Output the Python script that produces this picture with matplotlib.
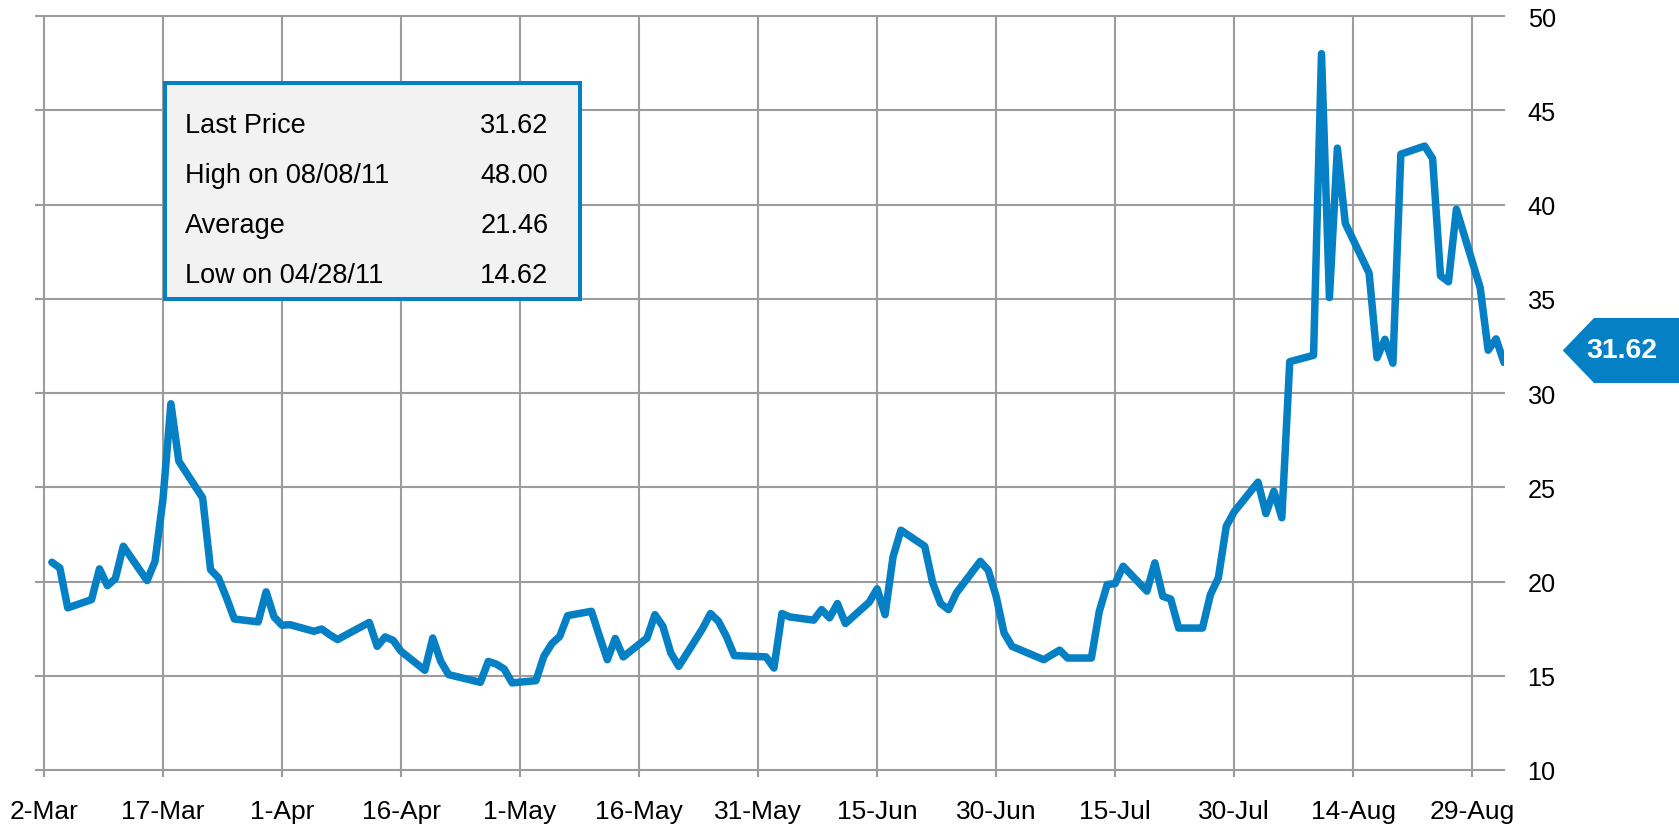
import matplotlib
matplotlib.use("Agg")
import matplotlib.pyplot as plt
import numpy as np
from matplotlib.patches import Polygon, Rectangle
from matplotlib.transforms import IdentityTransform

plt.rcParams['font.family'] = ['Liberation Sans', 'DejaVu Sans']

# Daily closing levels (2011)
dates = [
    '2011-03-03', '2011-03-04', '2011-03-05', '2011-03-08', '2011-03-09', '2011-03-10',
    '2011-03-11', '2011-03-12', '2011-03-15', '2011-03-16', '2011-03-17', '2011-03-18',
    '2011-03-19', '2011-03-22', '2011-03-23', '2011-03-24', '2011-03-25', '2011-03-26',
    '2011-03-29', '2011-03-30', '2011-03-31', '2011-04-01', '2011-04-02', '2011-04-05',
    '2011-04-06', '2011-04-07', '2011-04-08', '2011-04-09', '2011-04-12', '2011-04-13',
    '2011-04-14', '2011-04-15', '2011-04-16', '2011-04-19', '2011-04-20', '2011-04-21',
    '2011-04-22', '2011-04-26', '2011-04-27', '2011-04-28', '2011-04-29', '2011-04-30',
    '2011-05-03', '2011-05-04', '2011-05-05', '2011-05-06', '2011-05-07', '2011-05-10',
    '2011-05-11', '2011-05-12', '2011-05-13', '2011-05-14', '2011-05-17', '2011-05-18',
    '2011-05-19', '2011-05-20', '2011-05-21', '2011-05-24', '2011-05-25', '2011-05-26',
    '2011-05-27', '2011-05-28', '2011-06-01', '2011-06-02', '2011-06-03', '2011-06-04',
    '2011-06-07', '2011-06-08', '2011-06-09', '2011-06-10', '2011-06-11', '2011-06-14',
    '2011-06-15', '2011-06-16', '2011-06-17', '2011-06-18', '2011-06-21', '2011-06-22',
    '2011-06-23', '2011-06-24', '2011-06-25', '2011-06-28', '2011-06-29', '2011-06-30',
    '2011-07-01', '2011-07-02', '2011-07-06', '2011-07-07', '2011-07-08', '2011-07-09',
    '2011-07-12', '2011-07-13', '2011-07-14', '2011-07-15', '2011-07-16', '2011-07-19',
    '2011-07-20', '2011-07-21', '2011-07-22', '2011-07-23', '2011-07-26', '2011-07-27',
    '2011-07-28', '2011-07-29', '2011-07-30', '2011-08-02', '2011-08-03', '2011-08-04',
    '2011-08-05', '2011-08-06', '2011-08-09', '2011-08-10', '2011-08-11', '2011-08-12',
    '2011-08-13', '2011-08-16', '2011-08-17', '2011-08-18', '2011-08-19', '2011-08-20',
    '2011-08-23', '2011-08-24', '2011-08-25', '2011-08-26', '2011-08-27', '2011-08-30',
    '2011-08-31', '2011-09-01', '2011-09-02',
]
values = [
    21.02, 20.72, 18.60, 19.04, 20.67, 19.78,
    20.15, 21.87, 20.05, 21.07, 24.35, 29.43,
    26.38, 24.44, 20.63, 20.19, 19.14, 18.01,
    17.86, 19.45, 18.12, 17.68, 17.71, 17.36,
    17.48, 17.18, 16.92, 17.15, 17.83, 16.56,
    17.06, 16.88, 16.30, 15.29, 17.00, 15.77,
    15.06, 14.65, 15.76, 15.62, 15.36, 14.62,
    14.74, 16.03, 16.70, 17.09, 18.19, 18.42,
    17.11, 15.85, 16.98, 16.00, 17.00, 18.24,
    17.62, 16.21, 15.50, 17.50, 18.30, 17.89,
    17.09, 16.07, 16.00, 15.41, 18.30, 18.12,
    17.95, 18.51, 18.07, 18.83, 17.77, 18.90,
    19.61, 18.24, 21.30, 22.72, 21.87, 19.93,
    18.83, 18.51, 19.40, 21.07, 20.60, 19.21,
    17.27, 16.56, 15.85, 16.11, 16.36, 15.94,
    15.94, 18.42, 19.84, 19.89, 20.81, 19.49,
    20.99, 19.21, 19.07, 17.53, 17.53, 19.30,
    20.19, 22.93, 23.70, 25.27, 23.60, 24.79,
    23.38, 31.66, 32.00, 48.00, 35.06, 42.99,
    39.00, 36.36, 31.87, 32.85, 31.58, 42.67,
    43.10, 42.44, 36.22, 35.90, 39.75, 35.58,
    32.27, 32.87, 31.62,
]

tick_dates = ['2011-03-02', '2011-03-17', '2011-04-01', '2011-04-16', '2011-05-01',
              '2011-05-16', '2011-05-31', '2011-06-15', '2011-06-30', '2011-07-15',
              '2011-07-30', '2011-08-14', '2011-08-29']
tick_labels = ['2-Mar', '17-Mar', '1-Apr', '16-Apr', '1-May', '16-May', '31-May',
               '15-Jun', '30-Jun', '15-Jul', '30-Jul', '14-Aug', '29-Aug']
y_ticks = [10, 15, 20, 25, 30, 35, 40, 45, 50]

stat_labels = ['Last Price', 'High on 08/08/11', 'Average', 'Low on 04/28/11']
average_value = 21.46

BLUE = '#0580C4'
GRID = '#9C9C9C'

x = np.array(dates, dtype='datetime64[D]')
y = np.array(values)
xt = np.array(tick_dates, dtype='datetime64[D]')

W, H = 1679, 829
fig = plt.figure(figsize=(W / 100, H / 100), dpi=100)
ax = fig.add_axes([36 / W, (H - 771) / H, 1468 / W, 754 / H])

ax.plot(x, y, color=BLUE, lw=5.4, solid_joinstyle='round', solid_capstyle='round', zorder=3)

ax.set_xlim(np.datetime64('2011-03-01'), x[-1])
ax.set_ylim(y_ticks[0], y_ticks[-1])
ax.set_xticks(xt)
ax.set_xticklabels(tick_labels)
ax.set_yticks(y_ticks)
ax.set_yticklabels([str(v) for v in y_ticks])

ax.yaxis.tick_right()
for s in ax.spines.values():
    s.set_visible(False)
ax.grid(True, color=GRID, lw=1.5, zorder=0)
for gl in ax.get_xgridlines() + ax.get_ygridlines():
    gl.set_clip_on(False)
ax.tick_params(axis='x', length=7 * 0.72, width=1.5, color=GRID, pad=16,
               labelsize=19, labelcolor='black')
ax.tick_params(axis='y', length=0, pad=17, labelsize=18.2, labelcolor='black')
ax.set_axisbelow(True)


def fx(px):
    return px / W


def fy(py):
    return (H - py) / H


# Summary box
box = Rectangle((fx(165.3), fy(300.3)), fx(579.7) - fx(165.3), fy(83.7) - fy(300.3),
                transform=fig.transFigure, facecolor='#F2F2F2', edgecolor=BLUE,
                lw=2.9, zorder=5)
fig.add_artist(box)
stat_values = [y[-1], y.max(), average_value, y.min()]
for i, (lab, val) in enumerate(zip(stat_labels, stat_values)):
    base = 133.3 + 50 * i
    fig.text(fx(185), fy(base), lab, fontsize=19.5, va='baseline', ha='left', zorder=6)
    fig.text(fx(548.3), fy(base), f'{val:.2f}', fontsize=19.5, va='baseline', ha='right', zorder=6)

# Last-value tag on the right
last_disp = ax.transData.transform((ax.get_xlim()[1], y[-1]))[1]
c = last_disp + 12
half = 32.5
tag = Polygon([(1562.7, c), (1594, c + half), (W + 5, c + half), (W + 5, c - half), (1594, c - half)],
              closed=True, transform=IdentityTransform(), facecolor=BLUE, edgecolor='none')
fig.add_artist(tag)
fig.text(1622, c, f'{y[-1]:.2f}', transform=IdentityTransform(), color='white',
         fontsize=20.5, fontweight='bold', ha='center', va='center')

fig.savefig('out.png', dpi=100)
